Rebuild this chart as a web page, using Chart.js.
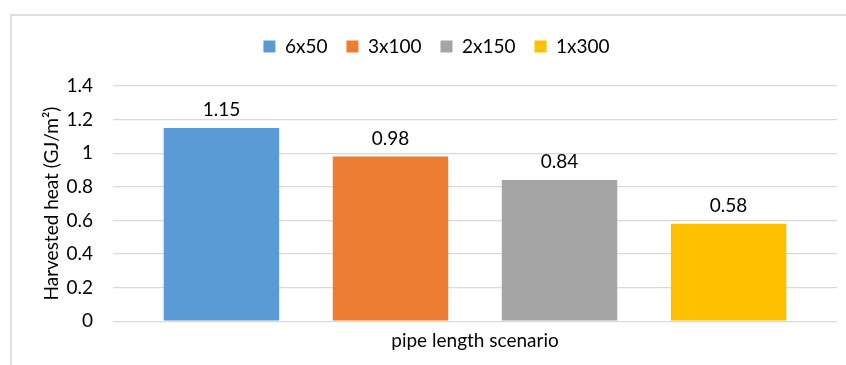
<!DOCTYPE html>
<html>
<head>
<meta charset="utf-8">
<script src="https://cdn.jsdelivr.net/npm/chart.js@4/dist/chart.umd.min.js"></script>
<style>
  html, body { margin: 0; padding: 0; background: #fff; overflow: hidden; }
  #wrap { position: relative; width: 846px; height: 365px; }
  #frame {
    position: absolute; left: 10px; top: 14px; width: 900px; height: 400px;
    border-left: 2px solid #e0e0e0; border-top: 2px solid #e0e0e0;
  }
  canvas { position: absolute; left: 0; top: 0; }
</style>
</head>
<body>
<div id="wrap">
  <div id="frame"></div>
  <canvas id="chart" width="846" height="365"></canvas>
</div>
<script>
// Scenario names, harvested heat per scenario and bar colours
const scenarios = ['6x50', '3x100', '2x150', '1x300'];
const harvestedHeat = [1.15, 0.98, 0.84, 0.58];
const barColors = ['#5B9BD5', '#ED7D31', '#A5A5A5', '#FFC000'];
const categoryLabels = [''];
const yTitle = 'Harvested heat (GJ/m\u00B2)';
const xTitle = 'pipe length scenario';

const FONT = 'Lato, "Open Sans", sans-serif';
const FONT_SIZE = 19;
const TEXT = '#000000';

// Value labels printed above each bar
const valueLabels = {
  id: 'valueLabels',
  afterDatasetsDraw(chart) {
    const ctx = chart.ctx;
    ctx.save();
    ctx.font = FONT_SIZE + 'px ' + FONT;
    ctx.fillStyle = TEXT;
    ctx.textAlign = 'center';
    ctx.textBaseline = 'alphabetic';
    chart.data.datasets.forEach((ds, i) => {
      const meta = chart.getDatasetMeta(i);
      meta.data.forEach((bar, j) => {
        ctx.fillText(String(ds.data[j]), bar.x, bar.y - 12);
      });
    });
    ctx.restore();
  }
};

// Extra space between the legend row and the plot
const legendGap = {
  id: 'legendGap',
  beforeInit(chart) {
    const legend = chart.legend;
    if (!legend) return;
    const fit = legend.fit;
    legend.fit = function () {
      fit.call(this);
      this.height += 20;
    };
  }
};

const datasets = scenarios.map((name, i) => ({
  label: name,
  data: [harvestedHeat[i]],
  backgroundColor: barColors[i],
  borderWidth: 0,
  barPercentage: 0.683,
  categoryPercentage: 0.934
}));

new Chart(document.getElementById('chart'), {
  type: 'bar',
  data: { labels: categoryLabels, datasets },
  options: {
    responsive: false,
    animation: false,
    layout: { padding: { left: 36, right: 9, top: 18, bottom: 9 } },
    plugins: {
      legend: {
        position: 'top',
        labels: {
          boxWidth: 12,
          boxHeight: 12,
          padding: 19,
          color: TEXT,
          font: { family: FONT, size: FONT_SIZE }
        }
      },
      tooltip: { enabled: false }
    },
    scales: {
      x: {
        grid: { display: false, drawTicks: false },
        border: { display: false },
        ticks: { display: false },
        title: {
          display: true,
          text: xTitle,
          color: TEXT,
          font: { family: FONT, size: FONT_SIZE },
          padding: { top: 8, bottom: 4 }
        }
      },
      y: {
        min: 0,
        max: 1.4,
        ticks: {
          stepSize: 0.2,
          padding: 20,
          color: TEXT,
          font: { family: FONT, size: FONT_SIZE },
          callback: (v) => String(Number(v.toFixed(1)))
        },
        grid: { color: '#d9d9d9', lineWidth: 1.3, drawTicks: false },
        border: { display: false },
        title: {
          display: true,
          text: yTitle,
          color: TEXT,
          font: { family: FONT, size: FONT_SIZE },
          padding: { top: 4, bottom: 0 }
        },
        afterFit(scale) { scale.width = 77; }
      }
    }
  },
  plugins: [valueLabels, legendGap]
});
</script>
</body>
</html>
